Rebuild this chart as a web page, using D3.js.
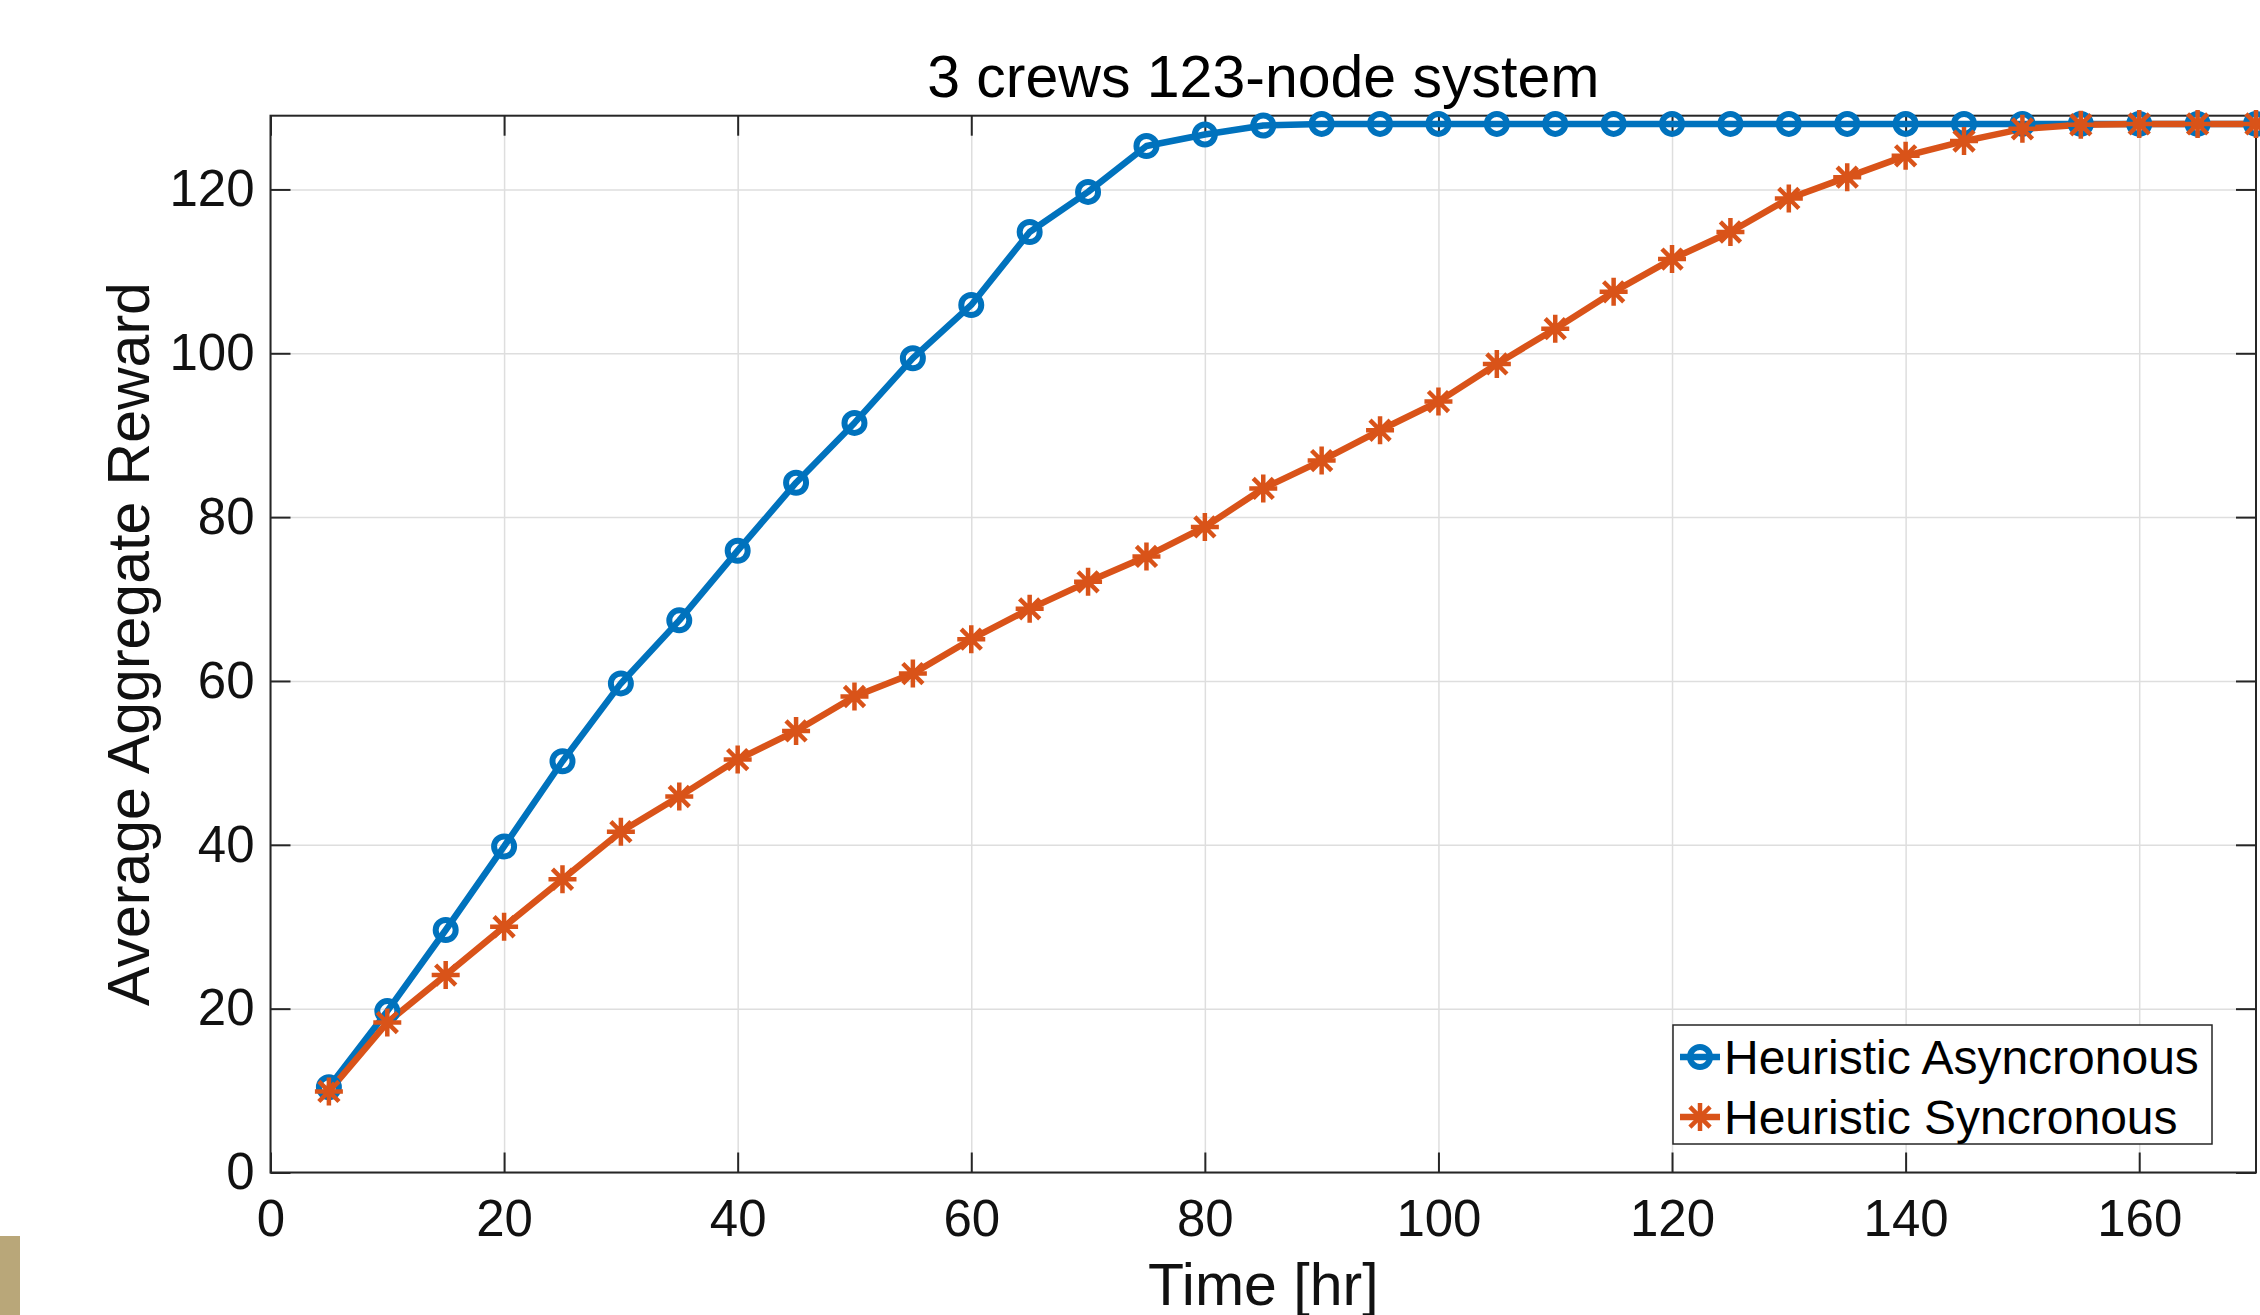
<!DOCTYPE html>
<html>
<head>
<meta charset="utf-8">
<script src="https://cdn.jsdelivr.net/npm/d3@7"></script>
<style>
  body { margin: 0; background: #fff; }
  svg { display: block; font-family: "Liberation Sans", Arial, Helvetica, sans-serif; }
  .grid line { stroke: #dedede; stroke-width: 1.5; }
  .grid path { display: none; }
  .ax path { display: none; }
  .ax line { stroke: #262626; stroke-width: 2; }
  .ax text { fill: #111; font-size: 51px; }
</style>
</head>
<body>
<svg></svg>
<script>
const w = 2260;
const h = 1315;
const plotLeft = 270.5;
const plotRight = 2256;
const plotTop = 115.7;
const plotBottom = 1172.5;
const tickLen = 20;

// data
const hours = [5, 10, 15, 20, 25, 30, 35, 40, 45, 50, 55, 60, 65, 70, 75, 80, 85,
  90, 95, 100, 105, 110, 115, 120, 125, 130, 135, 140, 145, 150, 155, 160, 165, 170];
const asyncReward = [10.4, 19.7, 29.6, 39.8, 50.2, 59.7, 67.4, 75.9, 84.2, 91.5, 99.4, 105.9, 114.8, 119.7, 125.3, 126.7, 127.8,
  128, 128, 128, 128, 128, 128, 128, 128, 128, 128, 128, 128, 128, 128, 128, 128, 128];
const syncReward = [9.9, 18.3, 24.1, 30.0, 35.8, 41.6, 45.9, 50.4, 53.9, 58.1, 60.9, 65.1, 68.8, 72.1, 75.2, 78.8, 83.5,
  86.9, 90.6, 94.1, 98.7, 103.0, 107.5, 111.5, 114.8, 118.9, 121.5, 124.1, 125.9, 127.4, 127.9, 128, 128, 128];
const xTicks = [0, 20, 40, 60, 80, 100, 120, 140, 160];
const yTicks = [0, 20, 40, 60, 80, 100, 120];
const seriesNames = ["Heuristic Asyncronous", "Heuristic Syncronous"];
const colors = ["#0072BD", "#D95319"];

const svg = d3.select("svg").attr("width", w).attr("height", h);

const x = d3.scaleLinear().domain([0, 170]).range([plotLeft, plotRight]);
const y = d3.scaleLinear().domain([0, 129]).range([plotBottom, plotTop]);

// little tan strip in the lower left corner of the screenshot
svg.append("rect")
  .attr("x", 0).attr("y", 1236).attr("width", 20).attr("height", h - 1236)
  .attr("fill", "#b9a779");

/** grid */
svg.append("g").attr("class", "grid")
  .attr("transform", `translate(0,${plotBottom})`)
  .call(d3.axisBottom(x).tickValues(xTicks).tickSize(-(plotBottom - plotTop)).tickFormat(""));
svg.append("g").attr("class", "grid")
  .attr("transform", `translate(${plotLeft},0)`)
  .call(d3.axisLeft(y).tickValues(yTicks).tickSize(-(plotRight - plotLeft)).tickFormat(""));

/** axes, ticks pointing inward */
svg.append("g").attr("class", "ax")
  .attr("transform", `translate(0,${plotBottom})`)
  .call(d3.axisBottom(x).tickValues(xTicks).tickSize(-tickLen).tickPadding(27));
svg.append("g").attr("class", "ax")
  .attr("transform", `translate(0,${plotTop})`)
  .call(d3.axisTop(x).tickValues(xTicks).tickSize(-tickLen).tickFormat(""));
svg.append("g").attr("class", "ax")
  .attr("transform", `translate(${plotLeft},0)`)
  .call(d3.axisLeft(y).tickValues(yTicks).tickSize(-tickLen).tickPadding(16));
svg.append("g").attr("class", "ax")
  .attr("transform", `translate(${plotRight},0)`)
  .call(d3.axisRight(y).tickValues(yTicks).tickSize(-tickLen).tickFormat(""));

svg.append("rect")
  .attr("x", plotLeft).attr("y", plotTop)
  .attr("width", plotRight - plotLeft).attr("height", plotBottom - plotTop)
  .attr("fill", "none").attr("stroke", "#262626").attr("stroke-width", 2);

/** lines */
const line = d3.line().x((d) => x(d[0])).y((d) => y(d[1]));
const series = [asyncReward, syncReward].map((vals) => vals.map((v, i) => [hours[i], v]));

series.forEach((pts, k) => {
  svg.append("path")
    .datum(pts)
    .attr("d", line)
    .attr("fill", "none")
    .attr("stroke", colors[k])
    .attr("stroke-width", 6.5)
    .attr("stroke-linejoin", "round");
});

const asterisk = (s) =>
  `M${-s},0L${s},0M0,${-s}L0,${s}M${-s * 0.72},${-s * 0.72}L${s * 0.72},${s * 0.72}M${-s * 0.72},${s * 0.72}L${s * 0.72},${-s * 0.72}`;

/** markers */
svg.append("g")
  .selectAll("circle")
  .data(series[0])
  .enter()
  .append("circle")
  .attr("cx", (d) => x(d[0]))
  .attr("cy", (d) => y(d[1]))
  .attr("r", 10)
  .attr("fill", "none")
  .attr("stroke", colors[0])
  .attr("stroke-width", 6);

svg.append("g")
  .selectAll("path")
  .data(series[1])
  .enter()
  .append("path")
  .attr("transform", (d) => `translate(${x(d[0])},${y(d[1])})`)
  .attr("d", asterisk(14))
  .attr("fill", "none")
  .attr("stroke", colors[1])
  .attr("stroke-width", 4.5);

/** labels */
svg.append("text")
  .attr("x", (plotLeft + plotRight) / 2).attr("y", 97)
  .attr("text-anchor", "middle")
  .attr("font-size", 59)
  .attr("fill", "#000")
  .text("3 crews 123-node system");

svg.append("text")
  .attr("x", (plotLeft + plotRight) / 2).attr("y", 1305)
  .attr("text-anchor", "middle")
  .attr("font-size", 59)
  .attr("fill", "#111")
  .text("Time [hr]");

svg.append("text")
  .attr("transform", "translate(149,644) rotate(-90)")
  .attr("text-anchor", "middle")
  .attr("font-size", 59)
  .attr("fill", "#111")
  .text("Average Aggregate Reward");

/** legend */
const lg = svg.append("g");
lg.append("rect")
  .attr("x", 1673).attr("y", 1025).attr("width", 539).attr("height", 119)
  .attr("fill", "#fff").attr("stroke", "#262626").attr("stroke-width", 1.5);

seriesNames.forEach((name, k) => {
  const cy = 1057 + k * 60;
  lg.append("line")
    .attr("x1", 1680).attr("x2", 1720).attr("y1", cy).attr("y2", cy)
    .attr("stroke", colors[k]).attr("stroke-width", 6.5);
  if (k === 0) {
    lg.append("circle").attr("cx", 1700).attr("cy", cy).attr("r", 10)
      .attr("fill", "none").attr("stroke", colors[0]).attr("stroke-width", 6);
  } else {
    lg.append("path").attr("transform", `translate(1700,${cy})`).attr("d", asterisk(14))
      .attr("fill", "none").attr("stroke", colors[1]).attr("stroke-width", 4.5);
  }
  lg.append("text")
    .attr("x", 1724).attr("y", cy + 17)
    .attr("font-size", 48)
    .attr("fill", "#000")
    .text(name);
});
</script>
</body>
</html>
